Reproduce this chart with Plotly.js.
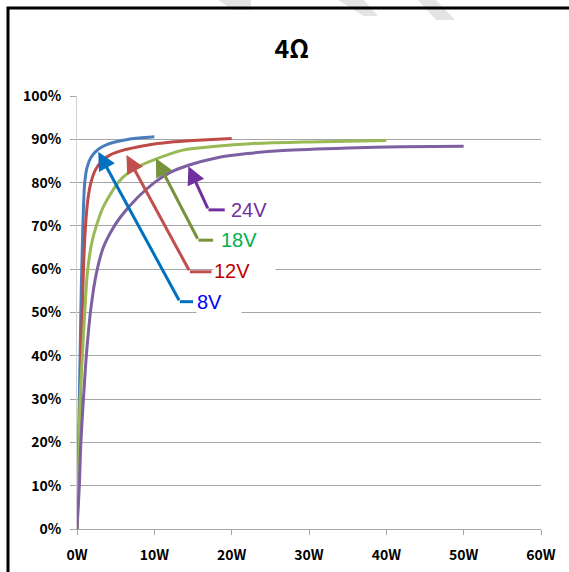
<!DOCTYPE html>
<html>
<head>
<meta charset="utf-8">
<script src="https://cdn.plot.ly/plotly-3.0.1.min.js"></script>
<style>html,body{margin:0;padding:0;background:#fff;}#chart{width:569px;height:572px;}</style>
</head>
<body>
<div id="chart"></div>
<script>
// ---- data ----
const seriesNames = ['8V', '12V', '18V', '24V'];
const watts8V  = [0, 0.2, 0.4, 0.55, 0.7, 0.85, 1.0, 1.3, 1.8, 2.75, 4, 6, 8, 10];
const eff8V    = [0, 20, 40, 55, 66, 75, 80, 83.5, 85.8, 87.7, 88.9, 89.8, 90.3, 90.6];
const watts12V = [0, 0.35, 0.55, 0.75, 0.9, 1.1, 1.4, 1.8, 2.4, 3.2, 4.3, 6, 7.8, 10, 12, 15, 20];
const eff12V   = [0, 22, 40, 55, 63, 70, 76, 80, 83, 85, 86.4, 87.5, 88.2, 88.9, 89.3, 89.7, 90.2];
const watts18V = [0, 0.2, 0.4, 0.7, 1.0, 1.33, 1.9, 2.5, 3.4, 5.6, 7.8, 10, 13.7, 18, 22.4, 30, 40];
const eff18V   = [0, 15, 30, 40, 50, 59, 66, 70, 74.4, 80.6, 83.6, 85.3, 87.5, 88.4, 89, 89.4, 89.7];
const watts24V = [0, 0.3, 0.5, 0.9, 1.25, 1.8, 2.5, 3.4, 4.5, 5.6, 7.8, 10, 12, 14.4, 18, 22, 26.6, 35, 42, 50];
const eff24V   = [0, 10, 20, 32, 41, 51, 59, 65, 69, 72, 76.5, 80, 82.3, 84, 85.7, 86.7, 87.4, 88, 88.3, 88.4];
const xTickVals = [0, 10, 20, 30, 40, 50, 60];
const xTickText = ['0W', '10W', '20W', '30W', '40W', '50W', '60W'];
const yTickVals = [0, 10, 20, 30, 40, 50, 60, 70, 80, 90, 100];
const yTickText = ['0%', '10%', '20%', '30%', '40%', '50%', '60%', '70%', '80%', '90%', '100%'];

// ---- styling ----
const lineColors  = ['#4A7EBB', '#BE4B48', '#98B954', '#7D60A0'];
const arrowColors = ['#0070C0', '#C0504D', '#77933C', '#7030A0'];
const labelColors = ['#0000FF', '#C00000', '#00B050', '#7030A0'];
// callout geometry (data units): arrow tip, elbow, end of horizontal, label anchor
const callouts = [
  {tip: [2.75, 87.1], elbow: [13.3, 52.5], end: 15.0, label: [15.4, 52.4], box: {w: 44, h: 38}},
  {tip: [6.4, 86.4],  elbow: [14.6, 59.4], end: 17.4, label: [17.6, 59.6], box: {w: 61, h: 26}},
  {tip: [10.2, 85.6], elbow: [15.7, 66.7], end: 17.6, label: [18.3, 66.7], box: null},
  {tip: [14.4, 83.8], elbow: [17.0, 73.7], end: 19.1, label: [19.7, 73.7], box: null}
];

const xs = [watts8V, watts12V, watts18V, watts24V];
const ys = [eff8V, eff12V, eff18V, eff24V];

const traces = seriesNames.map((n, i) => ({
  type: 'scatter', mode: 'lines', name: n,
  x: xs[i], y: ys[i],
  line: {color: lineColors[i], width: 3, shape: 'spline', smoothing: 0.8},
  hoverinfo: 'skip'
}));

const L = 77, R = 541, T = 96, B = 529;
const px = v => (v - L) / (R - L);
const py = v => (B - v) / (B - T);
const poly = pts => 'M' + pts.map(p => px(p[0]) + ',' + py(p[1])).join(' L') + ' Z';

const shapes = [];
const annotations = [];

// faint watermark strokes at the top edge
[
  [[218, 0], [251, 0], [251, 10], [233, 10]],
  [[338, 0], [364, 0], [378, 16], [364, 16]],
  [[418, 0], [436, 0], [455, 20], [436, 20]]
].forEach(p => shapes.push({type: 'path', xref: 'paper', yref: 'paper', path: poly(p),
  fillcolor: '#e4e4e4', line: {width: 0}, layer: 'above'}));

callouts.forEach((c, i) => {
  shapes.push({type: 'line', xref: 'x', yref: 'y', x0: c.elbow[0], y0: c.elbow[1], x1: c.end, y1: c.elbow[1],
    line: {color: arrowColors[i], width: 3}, layer: 'above'});
  annotations.push({x: c.tip[0], y: c.tip[1], xref: 'x', yref: 'y', ax: c.elbow[0], ay: c.elbow[1], axref: 'x', ayref: 'y',
    text: '', showarrow: true, arrowhead: 2, arrowsize: 1.2, arrowwidth: 3, arrowcolor: arrowColors[i], standoff: 0, startstandoff: 0});
  const a = {x: c.label[0], y: c.label[1], xref: 'x', yref: 'y', xanchor: 'left', yanchor: 'middle', showarrow: false,
    text: seriesNames[i], font: {family: 'Liberation Sans, Arial, sans-serif', size: 20, color: labelColors[i]}, align: 'left'};
  if (c.box) { a.bgcolor = '#ffffff'; a.width = c.box.w; a.height = c.box.h; a.borderpad = 0; }
  annotations.push(a);
});

// outer black frame
shapes.push({type: 'rect', xref: 'paper', yref: 'paper', x0: px(8), x1: px(700), y0: py(700), y1: py(8),
  line: {color: '#000000', width: 3}, fillcolor: 'rgba(0,0,0,0)', layer: 'above'});

const layout = {
  width: 569, height: 572,
  margin: {l: L, r: 569 - R, t: T, b: 572 - B, pad: 0},
  paper_bgcolor: '#ffffff', plot_bgcolor: '#ffffff',
  showlegend: false,
  title: {text: '<b>4Ω</b>', x: 0.513, xanchor: 'center', y: 1 - 49 / 572, yanchor: 'middle',
    font: {family: 'Noto Sans CJK KR, Noto Sans, sans-serif', size: 25, color: '#000000'}},
  xaxis: {range: [0, 60], tickvals: xTickVals, ticktext: xTickText, showgrid: false, zeroline: false,
    showline: true, linecolor: '#a6a6a6', linewidth: 1, ticks: 'outside', ticklen: 5, tickcolor: '#a6a6a6',
    ticklabelstandoff: 8,
    tickfont: {family: 'Noto Sans CJK KR, Noto Sans, sans-serif', size: 14, color: '#000000', weight: 'bold'}, fixedrange: true},
  yaxis: {range: [0, 100], tickvals: yTickVals, ticktext: yTickText, showgrid: true, gridcolor: '#a6a6a6', gridwidth: 1,
    zeroline: false, showline: true, linecolor: '#d0d0d0', linewidth: 1, ticks: 'outside', ticklen: 6, tickcolor: '#a6a6a6',
    ticklabelstandoff: 6,
    tickfont: {family: 'Noto Sans CJK KR, Noto Sans, sans-serif', size: 14, color: '#000000', weight: 'bold'}, fixedrange: true},
  shapes: shapes,
  annotations: annotations
};

Plotly.newPlot('chart', traces, layout, {displayModeBar: false, staticPlot: true});
</script>
</body>
</html>
